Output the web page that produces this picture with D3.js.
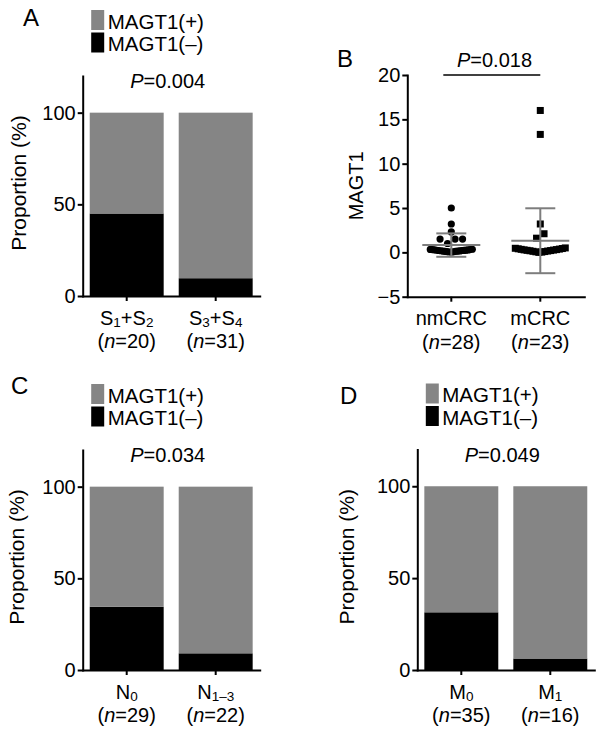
<!DOCTYPE html>
<html><head><meta charset="utf-8">
<script src="https://cdn.jsdelivr.net/npm/d3@7"></script>
<style>
body{margin:0;background:#fff}
text{font-family:"Liberation Sans", Arial, Helvetica, sans-serif;fill:#000}
</style>
</head><body>
<svg id="chart" width="602" height="736"></svg>
<script>
// ---------------- DATA ----------------
const legendLabels = ["MAGT1(+)", "MAGT1(–)"];
const propTicks = [0, 50, 100];

// Panel A: TNM stage
const aCategories = ["S{1}+S{2}", "S{3}+S{4}"];
const aN = [20, 31];
const aNegative = [45, 9.7];      // % MAGT1(–)
const aPositive = [55, 90.3];     // % MAGT1(+)
const aP = "0.004";

// Panel C: lymph node
const cCategories = ["N{0}", "N{1–3}"];
const cN = [29, 22];
const cNegative = [34.5, 9.1];
const cPositive = [65.5, 90.9];
const cP = "0.034";

// Panel D: metastasis
const dCategories = ["M{0}", "M{1}"];
const dN = [35, 16];
const dNegative = [31.4, 6.25];
const dPositive = [68.6, 93.75];
const dP = "0.049";

// Panel B: MAGT1 expression scatter
const bGroups = ["nmCRC", "mCRC"];
const bN = [28, 23];
const bNmcrcValues = [5.0, 3.2, 2.3, 1.5, 1.5, 1.5, 1.0,
  0.02, 0.04, 0.06, 0.08, 0.1, 0.12, 0.13, 0.15, 0.16, 0.18, 0.2,
  0.21, 0.22, 0.24, 0.25, 0.27, 0.28, 0.3, 0.31, 0.33, 0.35];
const bMcrcValues = [16.0, 13.3, 3.2, 2.1, 1.6,
  0.0, 0.03, 0.06, 0.09, 0.12, 0.15, 0.18, 0.2, 0.23, 0.26, 0.28,
  0.31, 0.34, 0.37, 0.4, 0.43, 0.46, 0.5];
const bMean = [0.82, 1.31];
const bSD = [1.32, 3.66];
const bTicks = [-5, 0, 5, 10, 15, 20];
const bP = "0.018";

// ---------------- DRAW ----------------
const svg = d3.select("#chart");
const GRAY = "#858585";
const EB_GRAY = "#7d7d7d";

function rich(textSel, str) {
  const parts = str.split(/\{([^}]*)\}/);
  let shifted = false;
  parts.forEach((p, i) => {
    if (p === "") return;
    const isSub = i % 2 === 1;
    const t = textSel.append("tspan").text(p);
    if (isSub) { t.attr("font-size", 13.5).attr("dy", shifted ? 0 : 2.5); shifted = true; }
    else { if (shifted) { t.attr("dy", -2.5); shifted = false; } }
  });
}

function pLabel(g, x, y, val) {
  const t = g.append("text").attr("x", x).attr("y", y)
    .attr("text-anchor", "middle").attr("font-size", 20);
  t.append("tspan").attr("font-style", "italic").text("P");
  t.append("tspan").text("=" + val);
}

function styleAxis(ax) {
  ax.select(".domain").attr("stroke", "#000").attr("stroke-width", 2).attr("stroke-linecap", "square");
  ax.selectAll(".tick line").attr("stroke", "#000").attr("stroke-width", 2);
  ax.selectAll(".tick text").attr("font-size", 20).attr("fill", "#000")
    .attr("font-family", '"Liberation Sans", Arial, sans-serif');
}

function xBand(domain, x0) {
  return d3.scaleBand().domain(domain).range([x0, x0 + 177])
    .paddingInner(0.169).paddingOuter(0.079);
}

function nLabel(g, cx, y, n) {
  const t2 = g.append("text").attr("x", cx).attr("y", y)
    .attr("text-anchor", "middle").attr("font-size", 20);
  t2.append("tspan").text("(");
  t2.append("tspan").attr("font-style", "italic").text("n");
  t2.append("tspan").text("=" + n + ")");
}

function drawBarPanel(cfg) {
  const g = svg.append("g");
  const y = d3.scaleLinear().domain([0, 120]).range([cfg.yBottom, cfg.yTop]);
  const x = xBand(cfg.categories, cfg.x0);
  const rows = cfg.categories.map((c, i) => ({cat: c, neg: cfg.negative[i], pos: cfg.positive[i]}));
  const series = d3.stack().keys(["neg", "pos"])(rows);
  const colors = {neg: "#000", pos: GRAY};
  g.selectAll("g.s").data(series).join("g").attr("fill", d => colors[d.key])
    .selectAll("rect").data(d => d).join("rect")
    .attr("x", d => x(d.data.cat)).attr("width", x.bandwidth())
    .attr("y", d => y(d[1])).attr("height", d => y(d[0]) - y(d[1]));

  const ya = g.append("g").attr("transform", `translate(${cfg.x0},0)`)
    .call(d3.axisLeft(y).tickValues(propTicks).tickSize(5).tickSizeOuter(0).tickPadding(2));
  styleAxis(ya);
  const xa = g.append("g").attr("transform", `translate(0,${cfg.yBottom})`)
    .call(d3.axisBottom(x).tickSize(5).tickSizeOuter(0).tickFormat(""));
  styleAxis(xa);

  cfg.categories.forEach((c, i) => {
    const cx = x(c) + x.bandwidth() / 2;
    const t1 = g.append("text").attr("x", cx).attr("y", cfg.yBottom + 28.5)
      .attr("text-anchor", "middle").attr("font-size", 20);
    rich(t1, c);
    nLabel(g, cx, cfg.yBottom + 52, cfg.n[i]);
  });

  g.append("text").attr("transform", `translate(${cfg.yLabelX},${(cfg.yTop + cfg.yBottom) / 2 - 3}) rotate(-90)`)
    .attr("text-anchor", "middle").attr("font-size", 21).text("Proportion (%)");

  pLabel(g, cfg.x0 + 85, cfg.yTop + 12, cfg.p);

  // legend
  const lx = cfg.x0 + 8.5, ly = cfg.yTop - 66;
  [GRAY, "#000"].forEach((col, i) => {
    g.append("rect").attr("x", lx).attr("y", ly + i * 22.5).attr("width", 13).attr("height", 20).attr("fill", col);
    g.append("text").attr("x", lx + 16.5).attr("y", ly + i * 22.5 + 18.5).attr("font-size", 20.5).text(legendLabels[i]);
  });

  g.append("text").attr("x", cfg.letterX).attr("y", cfg.letterY).attr("font-size", 24).text(cfg.letter);
}

drawBarPanel({letter: "A", letterX: 23, letterY: 26, x0: 82.7, yTop: 76, yBottom: 296, yLabelX: 26,
  categories: aCategories, n: aN, negative: aNegative, positive: aPositive, p: aP});
drawBarPanel({letter: "C", letterX: 11, letterY: 394, x0: 82.7, yTop: 450, yBottom: 670, yLabelX: 24,
  categories: cCategories, n: cN, negative: cNegative, positive: cPositive, p: cP});
drawBarPanel({letter: "D", letterX: 340, letterY: 404, x0: 417.3, yTop: 449.5, yBottom: 670, yLabelX: 354,
  categories: dCategories, n: dN, negative: dNegative, positive: dPositive, p: dP});

// ---------------- Panel B ----------------
(function () {
  const x0 = 407.3, yTop = 75, yBottom = 296.7;
  const g = svg.append("g");
  const y = d3.scaleLinear().domain([-5, 20]).range([yBottom, yTop]);
  const x = xBand(bGroups, x0);
  const cxOf = c => x(c) + x.bandwidth() / 2;

  function swarm(values, rowTol, maxWidth, diam) {
    const pts = values.map(v => ({v})).sort((a, b) => a.v - b.v);
    const rows = [];
    let cur = null;
    pts.forEach(p => {
      const py = y(p.v);
      if (cur && Math.abs(cur.y0 - py) <= rowTol) cur.pts.push(p);
      else { cur = {y0: py, pts: [p]}; rows.push(cur); }
    });
    rows.forEach(r => {
      const n = r.pts.length;
      const sp = n > 1 ? Math.min(diam, maxWidth / (n - 1)) : 0;
      const slots = d3.range(n).map(i => (i - (n - 1) / 2) * sp)
        .sort((a, b) => Math.abs(a) - Math.abs(b) || a - b);
      r.pts.forEach((p, i) => p.dx = slots[i]);
    });
    return pts;
  }

  const groupsData = [bNmcrcValues, bMcrcValues];
  groupsData.forEach((vals, gi) => {
    const cx = cxOf(bGroups[gi]);
    const pts = swarm(vals, 5, gi === 0 ? 42 : 50, 7.5);
    if (gi === 0) {
      g.selectAll("circle.n").data(pts).join("circle")
        .attr("cx", d => cx + d.dx).attr("cy", d => y(d.v)).attr("r", 3.6).attr("fill", "#000");
    } else {
      g.selectAll("rect.m").data(pts).join("rect")
        .attr("x", d => cx + d.dx - 3.5).attr("y", d => y(d.v) - 3.5)
        .attr("width", 7).attr("height", 7).attr("fill", "#000");
    }
  });

  // mean ± SD
  bGroups.forEach((grp, i) => {
    const cx = cxOf(grp);
    const eg = g.append("g").attr("stroke", EB_GRAY).attr("stroke-width", 2);
    eg.append("line").attr("x1", cx - 29).attr("x2", cx + 29).attr("y1", y(bMean[i])).attr("y2", y(bMean[i]));
    eg.append("line").attr("x1", cx).attr("x2", cx).attr("y1", y(bMean[i] - bSD[i])).attr("y2", y(bMean[i] + bSD[i]));
    [bMean[i] - bSD[i], bMean[i] + bSD[i]].forEach(v =>
      eg.append("line").attr("x1", cx - 15).attr("x2", cx + 15).attr("y1", y(v)).attr("y2", y(v)));
  });

  const ya = g.append("g").attr("transform", `translate(${x0},0)`)
    .call(d3.axisLeft(y).tickValues(bTicks).tickSize(5).tickSizeOuter(0).tickPadding(2));
  styleAxis(ya);
  const xa = g.append("g").attr("transform", `translate(0,${yBottom})`)
    .call(d3.axisBottom(x).tickSize(5).tickSizeOuter(0).tickFormat(""));
  styleAxis(xa);

  bGroups.forEach((grp, i) => {
    const cx = cxOf(grp);
    g.append("text").attr("x", cx).attr("y", yBottom + 28.5).attr("text-anchor", "middle")
      .attr("font-size", 20).text(grp);
    nLabel(g, cx, yBottom + 52, bN[i]);
  });

  g.append("text").attr("transform", `translate(363,${(yTop + yBottom) / 2}) rotate(-90)`)
    .attr("text-anchor", "middle").attr("font-size", 20).text("MAGT1");

  // significance bracket
  g.append("line").attr("x1", cxOf(bGroups[0]) - 8).attr("x2", cxOf(bGroups[1]))
    .attr("y1", yTop).attr("y2", yTop).attr("stroke", "#000").attr("stroke-width", 1.5);
  pLabel(g, 494.5, 67, bP);

  g.append("text").attr("x", 337).attr("y", 67).attr("font-size", 24).text("B");
})();
</script>
</body></html>
